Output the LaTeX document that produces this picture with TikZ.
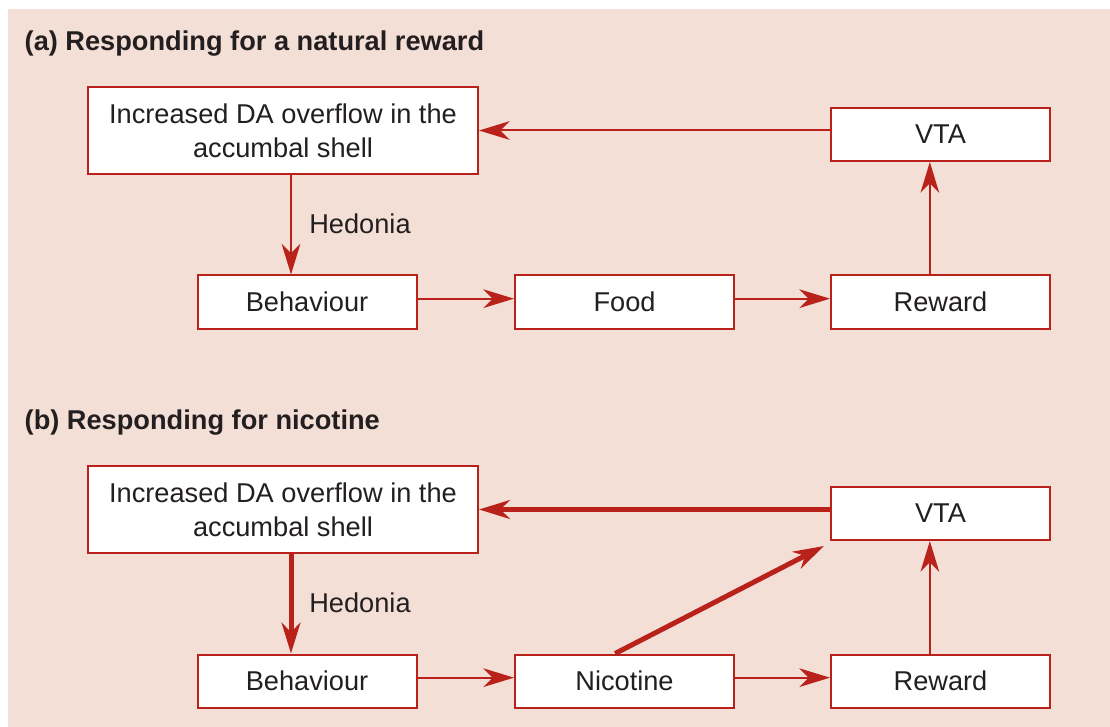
\documentclass[tikz,border=0pt]{standalone}
\usepackage{fontspec}
\setmainfont{Liberation Sans}
\usetikzlibrary{arrows.meta}
\definecolor{bg}{RGB}{243,223,213}
\definecolor{dred}{RGB}{185,33,27}
\definecolor{txt}{RGB}{35,31,32}
\begin{document}
\begin{tikzpicture}[x=0.75pt,y=-0.75pt,
  font=\fontsize{20.4pt}{25.5pt}\selectfont, text=txt,
  box/.style={draw=dred, line width=1.5pt, fill=white, inner sep=0pt, align=center},
  bigbox/.style={box, minimum width=292.5pt, minimum height=65.25pt},
  smallbox/.style={box, minimum width=164.25pt, minimum height=39.75pt},
  conn/.style={draw=dred, line width=1.5pt, -{Stealth[length=23pt, width=14pt, inset=7pt]}},
  thick conn/.style={conn, line width=3.75pt},
  title/.style={anchor=west, font=\fontsize{20.4pt}{25.5pt}\selectfont\bfseries}]
\useasboundingbox (0,0) rectangle (1110,727);
\fill[bg] (8,9) rectangle (1110,727);

% (a)
\node[title] (ta) at (20,44) {(a) Responding for a natural reward};
\node[bigbox] (da) at (283,130.5) {Increased DA overflow in the\\accumbal shell};
\node[smallbox] (vta) at (940.5,134.5) {VTA};
\node[smallbox] (beh) at (307,302) {Behaviour};
\node[smallbox] (food) at (624.5,302) {Food};
\node[smallbox] (rew) at (940.5,302) {Reward};
\node (hed) at (360,224) {Hedonia};
\coordinate (h) at ([xshift=-12pt]beh.north);
\coordinate (r) at ([xshift=-8pt]rew.north);
\draw[conn] (da.east -| vta.west) -- (da.east);
\draw[conn] (da.south -| h) -- (h);
\draw[conn] ([yshift=2.5pt]beh.east) -- ([yshift=2.5pt]food.west);
\draw[conn] ([yshift=2.5pt]food.east) -- ([yshift=2.5pt]rew.west);
\draw[conn] (r) -- (vta.south -| r);

% (b)
\node[title] (tb) at (20,423) {(b) Responding for nicotine};
\node[bigbox] (db) at (283,509.5) {Increased DA overflow in the\\accumbal shell};
\node[smallbox] (vtb) at (940.5,513.5) {VTA};
\node[smallbox] (beb) at (307,681) {Behaviour};
\node[smallbox] (nic) at (624.5,681) {Nicotine};
\node[smallbox] (reb) at (940.5,681) {Reward};
\node (heb) at (360,603) {Hedonia};
\coordinate (hb) at ([xshift=-12pt]beb.north);
\coordinate (rb) at ([xshift=-8pt]reb.north);
\coordinate (ns) at ([xshift=-7pt]nic.north);
\coordinate (ve) at ([xshift=-4.5pt,yshift=-3.75pt]vtb.south west);
\draw[thick conn] (db.east -| vtb.west) -- (db.east);
\draw[thick conn] (db.south -| hb) -- (hb);
\draw[conn] ([yshift=2.5pt]beb.east) -- ([yshift=2.5pt]nic.west);
\draw[conn] ([yshift=2.5pt]nic.east) -- ([yshift=2.5pt]reb.west);
\draw[conn] (rb) -- (vtb.south -| rb);
\draw[thick conn] (ns) -- (ve);
\end{tikzpicture}
\end{document}
